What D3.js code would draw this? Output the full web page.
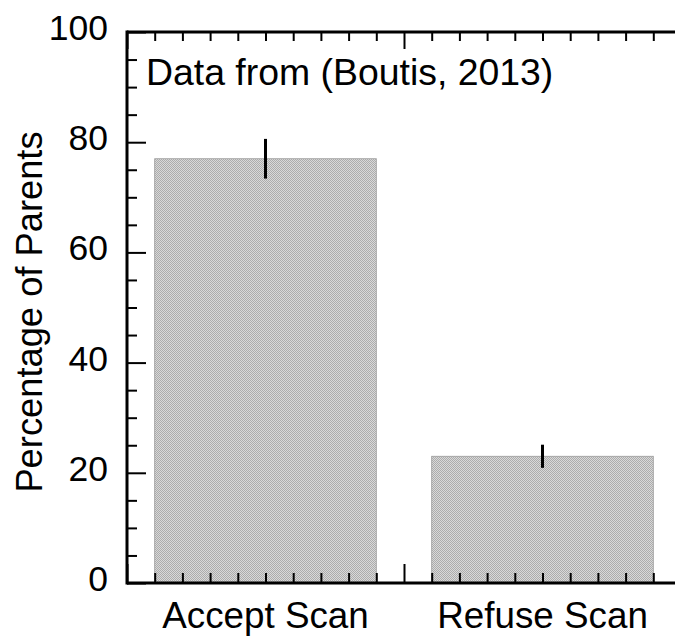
<!DOCTYPE html>
<html>
<head>
<meta charset="utf-8">
<title>Percentage of Parents</title>
<script src="https://cdn.jsdelivr.net/npm/d3@7"></script>
<style>
  body { margin: 0; background: #fff; }
  text { font-family: "Liberation Sans", Arial, sans-serif; fill: #000; }
</style>
</head>
<body>
<div id="chart"></div>
<script>
// chart data
var categories = ["Accept Scan", "Refuse Scan"];
var values = [77, 23];
var errors = [3.6, 2.1];
var yTicks = [0, 20, 40, 60, 80, 100];
var note = "Data from (Boutis, 2013)";

var width = 675, height = 636;
var plotLeft = 127, plotTop = 32, plotBottom = 583;

var svg = d3.select("#chart").append("svg")
  .attr("width", width)
  .attr("height", height);

// checker fill for bars
var pat = svg.append("defs").append("pattern")
  .attr("id", "checker")
  .attr("width", 2).attr("height", 2)
  .attr("patternUnits", "userSpaceOnUse");
pat.append("rect").attr("width", 2).attr("height", 2).attr("fill", "#d9d9d9");
pat.append("rect").attr("width", 1).attr("height", 1).attr("fill", "#acacac");
pat.append("rect").attr("x", 1).attr("y", 1).attr("width", 1).attr("height", 1).attr("fill", "#acacac");

// x is continuous: category i sits at i+1, axis runs 0.5 .. 2.5
var x = d3.scaleLinear().domain([0.5, 2.5]).range([plotLeft, plotLeft + 2 * 277]);
var y = d3.scaleLinear().domain([0, 100]).range([plotBottom, plotTop]);

// bars
svg.selectAll("rect.bar")
  .data(values)
  .enter().append("rect")
  .attr("class", "bar")
  .attr("x", function(d, i) { return x(i + 1 - 0.4); })
  .attr("y", function(d) { return y(d); })
  .attr("width", x(1.4) - x(0.6))
  .attr("height", function(d) { return y(0) - y(d); })
  .attr("fill", "url(#checker)")
  .attr("stroke", "#9a9a9a")
  .attr("stroke-width", 0.8);

// error bars (vertical only)
svg.selectAll("line.err")
  .data(values)
  .enter().append("line")
  .attr("class", "err")
  .attr("x1", function(d, i) { return x(i + 1); })
  .attr("x2", function(d, i) { return x(i + 1); })
  .attr("y1", function(d, i) { return y(d + errors[i]); })
  .attr("y2", function(d, i) { return y(d - errors[i]); })
  .attr("stroke", "#000")
  .attr("stroke-width", 3);

// minor / major tick values
var yMinor = d3.range(0, 101, 5).filter(function(v) { return v % 20 != 0; });
var xMinor = d3.range(0.6, 2.45, 0.1).filter(function(v) { return Math.abs(v - 1.5) > 0.01; });
var xMajor = [0.5, 1.5, 2.5];

function tickStyle(g) {
  g.select(".domain").remove();
  g.selectAll(".tick line").attr("stroke", "#000").attr("stroke-width", 2);
}

// left axis, ticks inward
svg.append("g").attr("transform", "translate(" + plotLeft + ",0)")
  .call(d3.axisRight(y).tickValues(yTicks).tickSize(19).tickFormat(""))
  .call(tickStyle);
svg.append("g").attr("transform", "translate(" + plotLeft + ",0)")
  .call(d3.axisRight(y).tickValues(yMinor).tickSize(10).tickFormat(""))
  .call(tickStyle);

// y tick labels
svg.selectAll("text.ylab")
  .data(yTicks)
  .enter().append("text")
  .attr("class", "ylab")
  .attr("x", plotLeft - 19)
  .attr("y", function(d) { return y(d) + 8; })
  .attr("text-anchor", "end")
  .style("font-size", "35.5px")
  .text(function(d) { return d; });

// bottom axis, ticks inward
svg.append("g").attr("transform", "translate(0," + plotBottom + ")")
  .call(d3.axisTop(x).tickValues(xMajor).tickSize(19).tickFormat(""))
  .call(tickStyle);
svg.append("g").attr("transform", "translate(0," + plotBottom + ")")
  .call(d3.axisTop(x).tickValues(xMinor).tickSize(10).tickFormat(""))
  .call(tickStyle);

// top axis, ticks inward
svg.append("g").attr("transform", "translate(0," + plotTop + ")")
  .call(d3.axisBottom(x).tickValues(xMajor).tickSize(17).tickFormat(""))
  .call(tickStyle);
svg.append("g").attr("transform", "translate(0," + plotTop + ")")
  .call(d3.axisBottom(x).tickValues(xMinor).tickSize(9).tickFormat(""))
  .call(tickStyle);

// frame lines
svg.append("line").attr("x1", plotLeft).attr("x2", plotLeft).attr("y1", plotTop - 1.5).attr("y2", plotBottom + 1.5)
  .attr("stroke", "#000").attr("stroke-width", 3);
svg.append("line").attr("x1", plotLeft).attr("x2", x(2.5)).attr("y1", plotBottom).attr("y2", plotBottom)
  .attr("stroke", "#000").attr("stroke-width", 3);
svg.append("line").attr("x1", plotLeft).attr("x2", x(2.5)).attr("y1", plotTop).attr("y2", plotTop)
  .attr("stroke", "#000").attr("stroke-width", 3);

// category labels
svg.selectAll("text.xlab")
  .data(categories)
  .enter().append("text")
  .attr("class", "xlab")
  .attr("x", function(d, i) { return x(i + 1); })
  .attr("y", 628)
  .attr("text-anchor", "middle")
  .style("font-size", "36.8px")
  .text(function(d) { return d; });

// y axis title
svg.append("text")
  .attr("transform", "translate(42,312) rotate(-90)")
  .attr("text-anchor", "middle")
  .style("font-size", "36.3px")
  .text("Percentage of Parents");

// note
svg.append("text")
  .attr("x", 146)
  .attr("y", 85)
  .style("font-size", "37.4px")
  .text(note);
</script>
</body>
</html>
